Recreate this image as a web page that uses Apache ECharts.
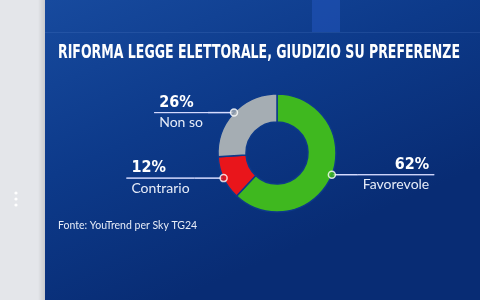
<!DOCTYPE html>
<html>
<head>
<meta charset="utf-8">
<script src="https://cdn.jsdelivr.net/npm/echarts@6/dist/echarts.min.js"></script>
<style>
  html, body { margin: 0; padding: 0; background: #e4e6ea; }
  #chart { width: 480px; height: 300px; }
</style>
</head>
<body>
<div id="chart"></div>
<script>
var categories = ['Favorevole', 'Contrario', 'Non so']
var values = [62, 12, 26]
var colors = ['#3fb81f', '#e9151b', '#a5adb3']
var lineLens = [26, 29, 26]

var titleText = 'RIFORMA LEGGE ELETTORALE, GIUDIZIO SU PREFERENZE'
var sourceText = 'Fonte: YouTrend per Sky TG24'

var narrow = "'DejaVu Sans Condensed', 'Liberation Sans Narrow', sans-serif"
var CX = 277, CY = 153

// il titolo è in un carattere molto stretto: lo comprimo in orizzontale
var titleFont = 'bold 20px ' + narrow
var ctx = document.createElement('canvas').getContext('2d')
ctx.font = titleFont
var titleScale = 402 / ctx.measureText(titleText).width

// punti di aggancio: metà di ogni spicchio, sul bordo esterno
var total = values.reduce(function (a, b) { return a + b }, 0)
var dots = []
var acc = 0
for (var i = 0; i < values.length; i++) {
  dots.push({
    value: [1, (acc + values[i] / 2) / total * 100],
    itemStyle: { color: colors[i] }
  })
  acc += values[i]
}

var pieData = []
for (var j = 0; j < categories.length; j++) {
  var al = j === 0 ? 'right' : 'left'
  pieData.push({
    name: categories[j],
    value: values[j],
    itemStyle: { color: colors[j] },
    labelLine: { length2: lineLens[j] },
    label: { rich: { p: { align: al }, n: { align: al } } }
  })
}

var option = {
  animation: false,
  backgroundColor: 'transparent',
  graphic: [
    { type: 'rect', z: -10, shape: { x: 45, y: 0, width: 435, height: 300 },
      style: { fill: { type: 'linear', x: 0, y: 0, x2: 0.3, y2: 1, colorStops: [
        { offset: 0, color: '#174a9e' }, { offset: 0.5, color: '#0d3a8a' }, { offset: 1, color: '#082c74' }] } } },
    { type: 'rect', z: -9, shape: { x: 312, y: 0, width: 28, height: 32 },
      style: { fill: 'rgba(40,90,200,0.45)' } },
    { type: 'rect', z: -9, shape: { x: 45, y: 32, width: 435, height: 1 },
      style: { fill: 'rgba(120,160,230,0.15)' } },
    { type: 'rect', z: -9, shape: { x: 38, y: 0, width: 7, height: 300 },
      style: { fill: { type: 'linear', x: 0, y: 0, x2: 1, y2: 0, colorStops: [
        { offset: 0, color: 'rgba(0,0,0,0)' }, { offset: 1, color: 'rgba(0,0,0,0.12)' }] } } },
    { type: 'circle', shape: { cx: 16, cy: 193, r: 1.6 }, style: { fill: '#ffffff' } },
    { type: 'circle', shape: { cx: 16, cy: 199, r: 1.6 }, style: { fill: '#ffffff' } },
    { type: 'circle', shape: { cx: 16, cy: 205, r: 1.6 }, style: { fill: '#ffffff' } },
    { type: 'text', x: 259, y: 53, scaleX: titleScale,
      style: { text: titleText, fill: '#ffffff', font: titleFont, align: 'center', verticalAlign: 'middle' } },
    { type: 'text', left: 58, top: 220,
      style: { text: sourceText, fill: '#e6ecf8', font: '10.5px Lato, "Noto Sans", sans-serif' } }
  ],
  polar: { center: [CX, CY], radius: 59 },
  angleAxis: {
    type: 'value', min: 0, max: 100, startAngle: 90, clockwise: true,
    show: false
  },
  radiusAxis: { type: 'value', min: 0, max: 1, show: false },
  series: [{
    type: 'pie',
    center: [CX, CY],
    radius: [31, 59],
    startAngle: 90,
    clockwise: true,
    avoidLabelOverlap: false,
    itemStyle: { borderColor: '#0d3a8a', borderWidth: 1.5 },
    label: {
      show: true,
      position: 'outside',
      distanceToLabelLine: 0,
      formatter: function (p) {
        return '{p|' + p.value + '%}\n{hr|}\n{n|' + p.name + '}'
      },
      rich: {
        p: { color: '#ffffff', fontFamily: narrow, fontWeight: 'bold', fontSize: 16, height: 20, padding: [0, 5, 0, 5] },
        hr: { borderColor: '#d6dcff', width: '100%', borderWidth: 1, height: 0 },
        n: { color: '#e6ecf8', fontFamily: 'Lato, "Noto Sans", sans-serif', fontSize: 14, height: 20, padding: [0, 5, 0, 5] }
      }
    },
    labelLine: {
      show: true,
      length: 0,
      length2: 26,
      lineStyle: { color: '#d6dcff', width: 1.5 }
    },
    data: pieData
  }, {
    type: 'scatter',
    coordinateSystem: 'polar',
    symbol: 'circle',
    symbolSize: 7,
    z: 5,
    itemStyle: { borderColor: '#ffffff', borderWidth: 1.5 },
    data: dots
  }]
}

var myChart = echarts.init(document.getElementById('chart'), null, { renderer: 'canvas' })
myChart.setOption(option)
</script>
</body>
</html>
